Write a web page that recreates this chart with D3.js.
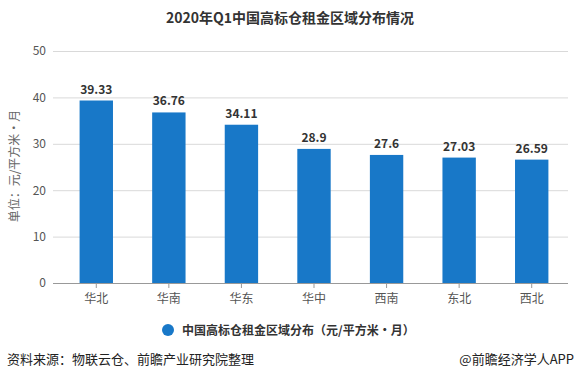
<!DOCTYPE html>
<html>
<head>
<meta charset="utf-8">
<script src="https://cdn.jsdelivr.net/npm/d3@7"></script>
<style>
  body { margin: 0; background: #fff; }
  text { font-family: "Microsoft YaHei", "Noto Sans CJK SC", sans-serif; }
</style>
</head>
<body>
<div id="chart"></div>
<script>
// chart data
const regions = ["华北", "华南", "华东", "华中", "西南", "东北", "西北"];
const rents = [39.33, 36.76, 34.11, 28.9, 27.6, 27.03, 26.59];
const rentLabels = ["39.33", "36.76", "34.11", "28.9", "27.6", "27.03", "26.59"];
const yTicks = [0, 10, 20, 30, 40, 50];

const WIDTH = 579;
const HEIGHT = 382;
const MARGIN = { left: 60, right: 11, top: 51, bottom: 99 };
const BAR_COLOR = "#1878c8";

const svg = d3.select("#chart")
  .append("svg")
  .attr("width", WIDTH)
  .attr("height", HEIGHT);

const x = d3.scaleBand()
  .domain(regions)
  .range([MARGIN.left, WIDTH - MARGIN.right])
  .paddingInner(0.54)
  .paddingOuter(0.27);

const y = d3.scaleLinear()
  .domain([0, 50])
  .range([HEIGHT - MARGIN.bottom, MARGIN.top]);

// title
svg.append("text")
  .attr("x", 290)
  .attr("y", 23)
  .attr("text-anchor", "middle")
  .attr("font-size", 14)
  .attr("font-weight", "bold")
  .attr("fill", "#333")
  .text("2020年Q1中国高标仓租金区域分布情况");

// gridlines + y labels
const yAxis = svg.append("g")
  .attr("transform", `translate(${MARGIN.left},0)`)
  .call(d3.axisLeft(y).tickValues(yTicks).tickSize(0).tickPadding(14));
yAxis.select(".domain").remove();
yAxis.selectAll("text").attr("fill", "#555").attr("font-size", 12);

svg.append("g")
  .selectAll("line")
  .data(yTicks.filter(d => d > 0))
  .join("line")
  .attr("x1", 53)
  .attr("x2", WIDTH - MARGIN.right)
  .attr("y1", d => y(d) + 0.5)
  .attr("y2", d => y(d) + 0.5)
  .attr("stroke", "#d9d9d9");

// y axis title
svg.append("text")
  .attr("transform", "translate(19,166) rotate(-90)")
  .attr("text-anchor", "middle")
  .attr("font-size", 12)
  .attr("fill", "#666")
  .text("单位：元/平方米·月");

// bars
svg.append("g")
  .selectAll("rect")
  .data(rents)
  .join("rect")
  .attr("x", (d, i) => x(regions[i]))
  .attr("y", d => y(d))
  .attr("width", x.bandwidth())
  .attr("height", d => y(0) - y(d))
  .attr("fill", BAR_COLOR);

// value labels
svg.append("g")
  .selectAll("text")
  .data(rents)
  .join("text")
  .attr("x", (d, i) => x(regions[i]) + x.bandwidth() / 2)
  .attr("y", d => y(d) - 7)
  .attr("text-anchor", "middle")
  .attr("font-size", 12)
  .attr("font-weight", "bold")
  .attr("fill", "#333")
  .text((d, i) => rentLabels[i]);

// x axis
const xAxis = svg.append("g")
  .attr("transform", `translate(0,${y(0)})`)
  .call(d3.axisBottom(x).tickSize(5).tickPadding(6).tickSizeOuter(0));
xAxis.select(".domain").attr("stroke", "#999").attr("d", `M53,0.5H${WIDTH - MARGIN.right}`);
xAxis.selectAll(".tick line").attr("stroke", "#999");
xAxis.selectAll("text").attr("fill", "#555").attr("font-size", 12);

// legend
svg.append("circle")
  .attr("cx", 168)
  .attr("cy", 330)
  .attr("r", 6)
  .attr("fill", BAR_COLOR);
svg.append("text")
  .attr("x", 182)
  .attr("y", 334.5)
  .attr("font-size", 12)
  .attr("font-weight", "bold")
  .attr("fill", "#333")
  .text("中国高标仓租金区域分布（元/平方米·月）");

// footer
svg.append("text")
  .attr("x", 7)
  .attr("y", 364)
  .attr("font-size", 13)
  .attr("fill", "#222")
  .text("资料来源：物联云仓、前瞻产业研究院整理");
svg.append("text")
  .attr("x", 574)
  .attr("y", 364)
  .attr("text-anchor", "end")
  .attr("font-size", 13)
  .attr("fill", "#222")
  .text("@前瞻经济学人APP");
</script>
</body>
</html>
